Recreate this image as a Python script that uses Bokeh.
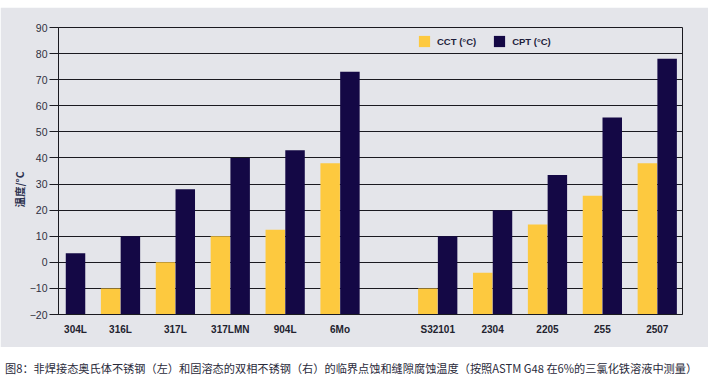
import math
import numpy as np
from bokeh.plotting import figure
from bokeh.models import ColumnDataSource, FixedTicker, Legend, LegendItem, Div, Range1d, Title, Spacer
from bokeh.layouts import column
from bokeh.embed import file_html
from bokeh.resources import INLINE

# ---- data ----
categories = ["304L", "316L", "317L", "317LMN", "904L", "6Mo",
              "S32101", "2304", "2205", "255", "2507"]
cct_values = [float("nan"), -10, 0, 10, 12.5, 38, -10, -4, 14.5, 25.5, 38]
cpt_values = [3.5, 10, 28, 40, 43, 73, 10, 20, 33.5, 55.5, 78]
y_ticks = [-20, -10, 0, 10, 20, 30, 40, 50, 60, 70, 80, 90]
series_names = ["CCT (°C)", "CPT (°C)"]
y_title = "温度/°C"
caption = "图8：非焊接态奥氏体不锈钢（左）和固溶态的双相不锈钢（右）的临界点蚀和缝隙腐蚀温度（按照ASTM G48 在6%的三氯化铁溶液中测量）"

# ---- layout parameters ----
n_austenitic = 6          # first group (left)
GAP = 0.78                # extra gap between the two groups (in slot units)
DODGE = 0.18
BAR_W = 0.355
BG = "#E4E5EA"
YELLOW = "#FDC93F"
NAVY = "#140845"
LINE = "#1A1A20"

idx = np.arange(len(categories))
pos = idx + np.where(idx >= n_austenitic, GAP, 0.0)
cct = np.array(cct_values, dtype=float)
cpt = np.array(cpt_values, dtype=float)
floor = y_ticks[0]

src = ColumnDataSource(dict(
    x_cct=pos - DODGE, x_cpt=pos + DODGE,
    cct=cct, cpt=cpt, base=np.full(len(pos), floor, dtype=float),
))

p = figure(output_backend="svg", toolbar_location=None,
           frame_width=624, frame_height=287,
           min_border_left=58, min_border_right=26,
           min_border_top=20, min_border_bottom=33,
           x_range=Range1d(-0.13, 11.24),
           y_range=Range1d(y_ticks[0], y_ticks[-1]),
           background_fill_color=BG, border_fill_color=BG,
           outline_line_color=LINE, outline_line_width=1)

r1 = p.vbar(x="x_cct", top="cct", bottom="base", width=BAR_W, source=src,
            fill_color=YELLOW, line_color=None)
r2 = p.vbar(x="x_cpt", top="cpt", bottom="base", width=BAR_W, source=src,
            fill_color=NAVY, line_color=None)

# grid
p.xgrid.grid_line_color = None
p.ygrid.grid_line_color = LINE
p.ygrid.grid_line_width = 1
p.ygrid.ticker = FixedTicker(ticks=y_ticks)

# y axis
p.yaxis.ticker = FixedTicker(ticks=y_ticks)
p.yaxis.axis_line_color = LINE
p.yaxis.axis_line_width = 1
p.yaxis.major_tick_line_color = LINE
p.yaxis.major_tick_line_width = 1
p.yaxis.major_tick_out = 9
p.yaxis.major_tick_in = 0
p.yaxis.minor_tick_line_color = None
p.yaxis.major_label_standoff = 2
p.yaxis.major_label_text_font = "Liberation Sans"
p.yaxis.major_label_text_font_size = "10.5px"
p.yaxis.major_label_text_color = "#2F3040"

# x axis: ticks at group centres (on the drawn bars)
tick_pos = [float(pos[i] + DODGE) if math.isnan(cct[i]) else float(pos[i]) for i in range(len(pos))]
p.xaxis.ticker = FixedTicker(ticks=tick_pos)
p.xaxis.major_label_overrides = {t: c for t, c in zip(tick_pos, categories)}
p.xaxis.axis_line_color = LINE
p.xaxis.axis_line_width = 1
p.xaxis.major_tick_line_color = None
p.xaxis.minor_tick_line_color = None
p.xaxis.major_tick_out = 0
p.xaxis.major_tick_in = 0
p.xaxis.major_label_standoff = 9
p.xaxis.major_label_text_font = "Liberation Sans"
p.xaxis.major_label_text_font_style = "bold"
p.xaxis.major_label_text_font_size = "10px"
p.xaxis.major_label_text_color = "#22222E"

# y title (as a left-side title so it can be shifted along the axis)
p.add_layout(Title(text=y_title, align="left", offset=107, standoff=0,
                   text_font="Noto Sans CJK SC", text_font_style="bold",
                   text_font_size="10.5px", text_color="#2E3350"), "left")

# legend
legend = Legend(items=[LegendItem(label=series_names[0], renderers=[r1]),
                       LegendItem(label=series_names[1], renderers=[r2])],
                orientation="horizontal", location=(359, 266),
                glyph_width=14, glyph_height=14, label_height=14,
                label_standoff=6, spacing=16, padding=0, margin=0,
                background_fill_alpha=0, border_line_color=None,
                label_text_font="Liberation Sans", label_text_font_style="bold",
                label_text_font_size="9.5px", label_text_color="#1E1E3C")
p.add_layout(legend, "center")

top_pad = Spacer(width=708, height=7)
div = Div(text=caption, width=708, height=31,
          styles={"font-family": "'Noto Sans CJK SC'", "font-size": "11.2px",
                  "color": "#2A2A3A", "white-space": "nowrap",
                  "padding-top": "8px"})

layout = column(top_pad, p, div, spacing=0)
open("out.html", "w").write(file_html(layout, INLINE))
